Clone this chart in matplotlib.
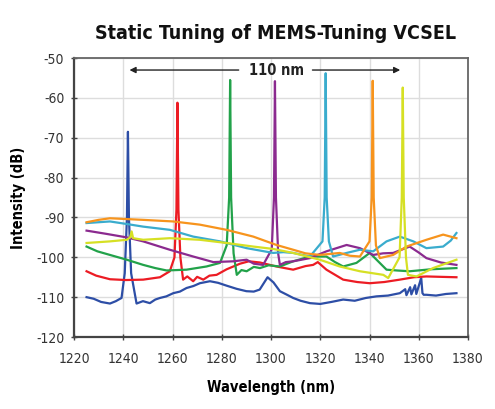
"""Static tuning spectra of a MEMS-tunable VCSEL: seven lasing peaks over ~110 nm."""

import matplotlib
matplotlib.use("Agg")
import matplotlib.pyplot as plt
from matplotlib import font_manager

# wavelength (nm) / intensity (dB), one series per tuning state
BLUE_WL = [1225.1, 1228.0, 1231.0, 1234.6, 1237.0, 1239.3, 1240.6, 1241.5, 1241.9, 1242.3,
           1243.2, 1245.4, 1248.0, 1250.8, 1253.0, 1254.9, 1257.5, 1260.3, 1263.0, 1265.7,
           1268.5, 1271.1, 1275.2, 1278.5, 1281.9, 1286.0, 1290.0, 1293.0, 1295.4, 1298.6,
           1301.0, 1303.6, 1306.5, 1309.0, 1312.0, 1315.8, 1320.0, 1324.5, 1329.3, 1334.0,
           1338.5, 1342.8, 1347.5, 1352.3, 1354.5, 1355.0, 1356.5, 1357.0, 1358.5, 1359.0,
           1361.0, 1361.5, 1362.0, 1363.1, 1367.0, 1371.0, 1375.3]
BLUE_DB = [-110.0, -110.4, -111.2, -111.6, -111.0, -110.2, -104.0, -90.0, -68.5, -90.0,
           -104.0, -111.6, -111.0, -111.5, -110.6, -110.2, -109.8, -109.0, -108.6, -107.7,
           -107.2, -106.5, -106.0, -106.4, -107.1, -107.9, -108.5, -108.6, -108.1, -105.0,
           -106.3, -108.5, -109.4, -110.2, -110.9, -111.5, -111.7, -111.2, -110.6, -110.9,
           -110.2, -109.8, -109.6, -109.0, -108.0, -109.5, -107.5, -109.3, -107.0, -109.2,
           -105.2, -109.0, -109.4, -109.4, -109.6, -109.2, -109.0]

RED_WL = [1225.1, 1229.0, 1234.6, 1241.0, 1248.1, 1254.9, 1258.9, 1260.8, 1261.6, 1262.0,
          1262.4, 1263.2, 1264.3, 1266.0, 1268.4, 1270.0, 1272.5, 1275.0, 1277.9, 1282.0,
          1287.4, 1291.0, 1295.5, 1302.2, 1309.0, 1314.0, 1317.1, 1319.0, 1322.5, 1329.3,
          1335.0, 1340.1, 1346.0, 1352.3, 1358.0, 1363.1, 1369.0, 1375.3]
RED_DB = [-103.5, -104.6, -105.5, -105.7, -105.6, -105.0, -103.5, -100.0, -88.0, -61.2,
          -88.0, -100.0, -105.6, -104.8, -106.0, -104.9, -105.6, -104.6, -104.4, -103.0,
          -101.6, -101.0, -101.3, -102.3, -103.1, -102.2, -101.9, -101.2, -103.1, -105.6,
          -106.2, -106.5, -106.2, -105.6, -105.0, -104.8, -104.9, -105.0]

GREEN_WL = [1225.1, 1229.5, 1234.6, 1241.4, 1248.1, 1253.0, 1257.6, 1265.7, 1273.8, 1279.3,
            1282.0, 1283.0, 1283.4, 1283.8, 1284.8, 1286.1, 1288.0, 1290.1, 1293.0, 1295.5,
            1299.0, 1303.6, 1309.0, 1315.8, 1322.5, 1326.0, 1329.3, 1334.7, 1340.1, 1346.9,
            1351.0, 1356.3, 1365.0, 1375.3]
GREEN_DB = [-97.3, -98.5, -99.4, -100.6, -101.9, -102.7, -103.3, -103.1, -102.3, -101.4,
            -97.0, -85.0, -55.5, -85.0, -99.0, -104.4, -103.2, -103.5, -102.4, -102.7,
            -102.0, -102.3, -101.0, -99.8, -99.8, -101.2, -102.3, -101.4, -98.9, -103.1,
            -103.3, -103.5, -103.0, -102.7]

PURPLE_WL = [1225.1, 1233.0, 1241.4, 1248.1, 1258.9, 1268.4, 1276.6, 1284.7, 1290.1, 1293.0,
             1296.8, 1300.3, 1301.2, 1301.6, 1302.0, 1302.9, 1303.6, 1306.0, 1309.0, 1315.8,
             1322.5, 1330.7, 1336.1, 1341.5, 1345.5, 1349.6, 1356.3, 1360.0, 1363.1, 1369.0,
             1375.3]
PURPLE_DB = [-93.3, -94.1, -95.0, -96.0, -98.1, -99.8, -101.2, -101.0, -100.6, -101.6,
             -101.9, -98.0, -85.0, -55.8, -85.0, -99.0, -101.9, -101.2, -101.0, -100.2,
             -98.5, -96.9, -97.7, -99.4, -99.0, -98.9, -97.3, -98.8, -100.2, -101.3,
             -101.9]

CYAN_WL = [1225.1, 1234.6, 1241.0, 1248.1, 1258.9, 1268.4, 1279.3, 1290.1, 1300.9, 1305.0,
           1309.0, 1315.8, 1320.9, 1321.8, 1322.2, 1322.6, 1323.5, 1325.2, 1330.7, 1336.1,
           1341.5, 1346.9, 1352.3, 1357.8, 1363.1, 1369.9, 1373.0, 1375.3]
CYAN_DB = [-91.4, -91.0, -91.6, -92.3, -93.1, -94.8, -96.0, -97.7, -98.9, -98.7,
           -98.9, -99.8, -96.0, -85.0, -53.8, -85.0, -96.0, -99.8, -98.9, -98.1,
           -98.5, -96.0, -94.8, -96.0, -97.7, -97.3, -95.8, -93.9]

ORANGE_WL = [1225.1, 1230.0, 1234.6, 1248.1, 1260.3, 1271.1, 1281.9, 1292.8, 1302.2, 1309.0,
             1314.0, 1319.8, 1327.9, 1332.0, 1336.1, 1340.0, 1340.9, 1341.3, 1341.7, 1342.6,
             1344.2, 1349.6, 1355.0, 1363.1, 1369.9, 1375.3]
ORANGE_DB = [-91.2, -90.6, -90.2, -90.6, -91.0, -91.8, -93.1, -94.8, -96.9, -98.1,
             -99.0, -99.4, -98.9, -99.6, -99.8, -96.0, -85.0, -55.7, -85.0, -97.0,
             -100.2, -99.4, -97.3, -95.6, -94.3, -95.2]

YELLOW_WL = [1225.1, 1234.6, 1241.4, 1242.8, 1243.4, 1244.0, 1248.1, 1258.9, 1271.1, 1281.9,
             1292.8, 1300.9, 1309.0, 1319.8, 1327.9, 1336.1, 1345.6, 1347.6, 1352.2, 1353.1,
             1353.5, 1353.9, 1354.8, 1355.6, 1359.1, 1365.8, 1375.3]
YELLOW_DB = [-96.4, -96.0, -95.6, -95.0, -93.5, -95.2, -95.6, -95.2, -95.6, -96.4,
             -97.3, -97.9, -98.9, -100.6, -102.3, -103.5, -104.4, -105.2, -100.0, -85.0,
             -57.4, -85.0, -100.0, -104.4, -104.8, -102.7, -100.6]

SERIES = [
    (BLUE_WL, BLUE_DB, "#2d4ea6"),
    (RED_WL, RED_DB, "#ec1c24"),
    (GREEN_WL, GREEN_DB, "#22a24a"),
    (PURPLE_WL, PURPLE_DB, "#8b2a8f"),
    (CYAN_WL, CYAN_DB, "#3aaccd"),
    (ORANGE_WL, ORANGE_DB, "#f7941d"),
    (YELLOW_WL, YELLOW_DB, "#d6e024"),
]

# span annotation: arrow tips, arrow tails next to the label, label centre
SPAN_START, SPAN_END, SPAN_LEVEL = 1241.4, 1353.6, -53.0
SPAN_TAIL_LEFT, SPAN_TAIL_RIGHT, SPAN_LABEL_X = 1288.0, 1315.7, 1302.2
SPAN_LABEL = "110 nm"

X_TICKS = list(range(1220, 1381, 20))
Y_TICKS = list(range(-120, -49, 10))

# prefer a condensed face, like the original's narrow grotesque
condensed = [f.name for f in font_manager.fontManager.ttflist
             if f.stretch in ("condensed", "semi-condensed", 75, 87.5) or "Narrow" in f.name
             or "Condensed" in f.name]
family = condensed[0] if condensed else "Liberation Sans"
plt.rcParams["font.family"] = [family, "DejaVu Sans"]
plt.rcParams["font.stretch"] = "condensed"
plt.rcParams["axes.unicode_minus"] = False

fig = plt.figure(figsize=(4.95, 4.09), dpi=100)
ax = fig.add_axes([0.1495, 0.176, 0.796, 0.682])

for wl, db, color in SERIES:
    ax.plot(wl, db, color=color, linewidth=1.6, solid_joinstyle="round")

ax.set_xlim(1220, 1380)
ax.set_ylim(-120, -50)
ax.set_xticks(X_TICKS)
ax.set_yticks(Y_TICKS)
ax.grid(True, color="#dddddd", linewidth=1.0)
ax.set_axisbelow(True)
ax.tick_params(direction="inout", length=4, width=1, color="#444444",
               labelsize=10, labelcolor="#333333", pad=5)
ax.tick_params(axis="x", pad=9)
for side in ["left", "bottom"]:
    ax.spines[side].set_color("#444444")
    ax.spines[side].set_linewidth(1.6)
for side in ["top", "right"]:
    ax.spines[side].set_color("#666666")
    ax.spines[side].set_linewidth(1.3)

ax.text(SPAN_LABEL_X, SPAN_LEVEL, SPAN_LABEL, ha="center", va="center",
        fontsize=10.5, fontweight="bold", color="#222222")
ax.annotate("", xy=(SPAN_START, SPAN_LEVEL), xytext=(SPAN_TAIL_LEFT, SPAN_LEVEL),
            arrowprops=dict(arrowstyle="-|>", color="#222222", lw=1.0, mutation_scale=9))
ax.annotate("", xy=(SPAN_END, SPAN_LEVEL), xytext=(SPAN_TAIL_RIGHT, SPAN_LEVEL),
            arrowprops=dict(arrowstyle="-|>", color="#222222", lw=1.0, mutation_scale=9))

ax.set_xlabel("Wavelength (nm)", fontsize=10.5, fontweight="bold", labelpad=10)
ax.set_ylabel("Intensity (dB)", fontsize=10.5, fontweight="bold", labelpad=7)
fig.text(0.556, 0.918, "Static Tuning of MEMS-Tuning VCSEL", ha="center", va="center",
         fontsize=14, fontweight="bold", color="#111111")

fig.savefig("out.png", dpi=100)
